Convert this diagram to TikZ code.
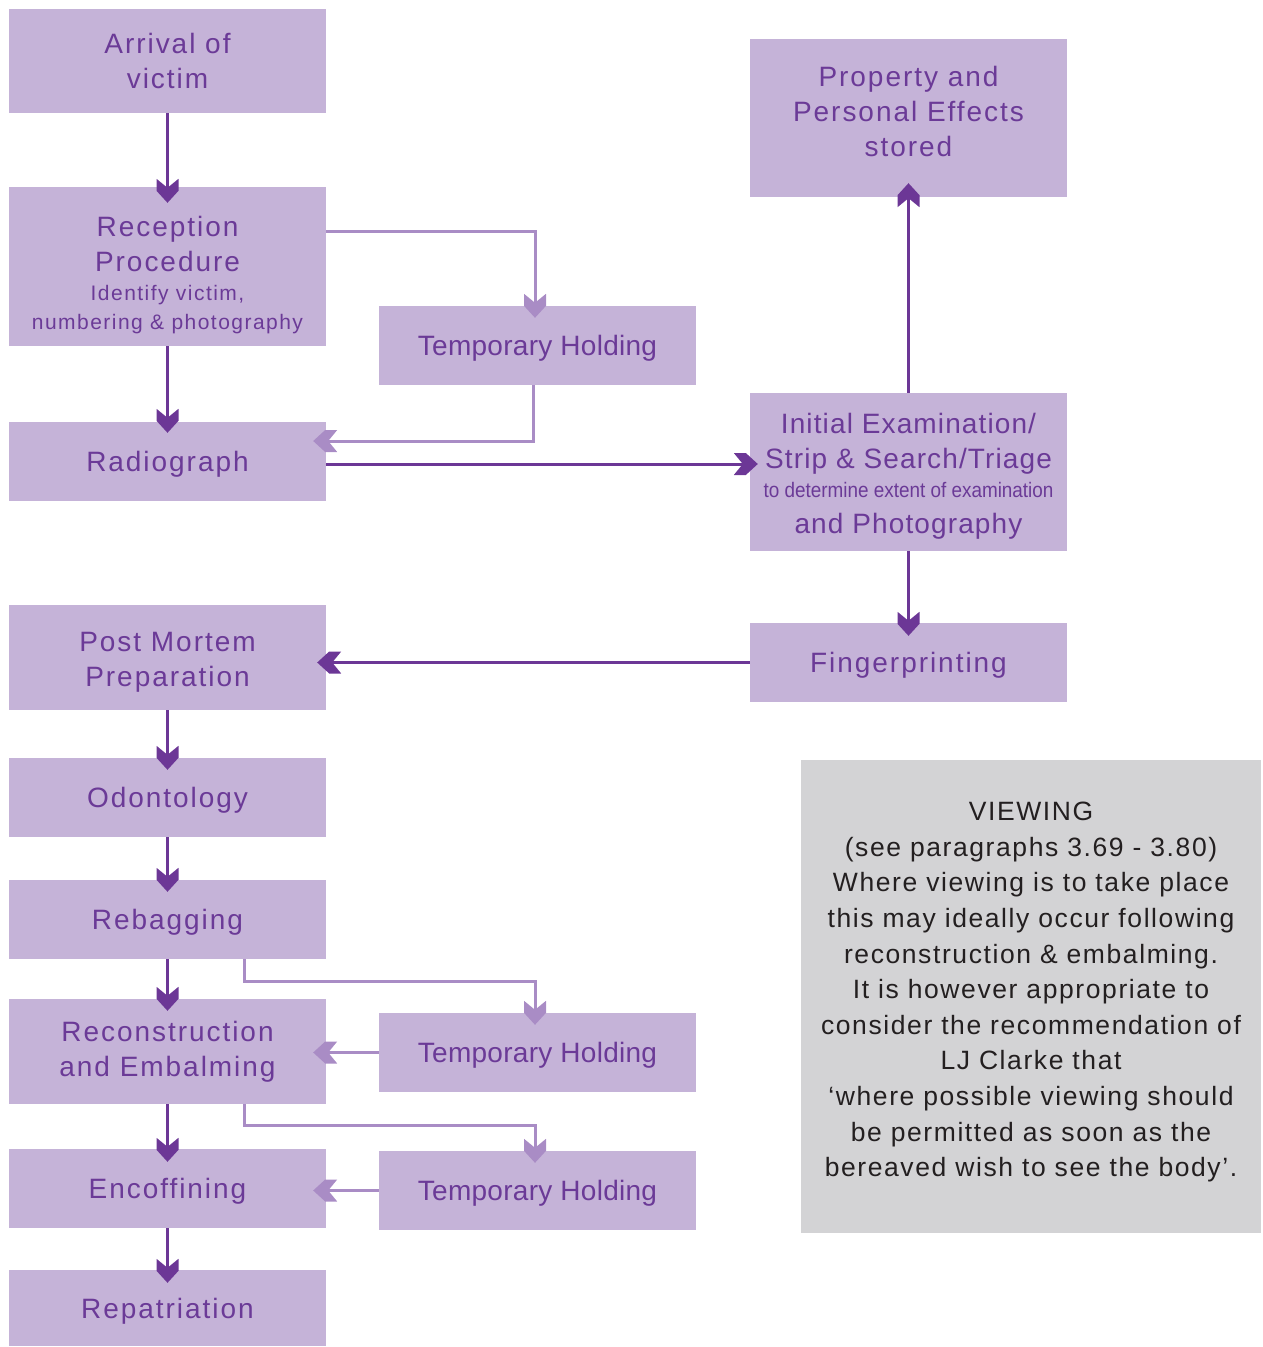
\documentclass[tikz,border=0pt]{standalone}
\usepackage{fontspec}
\setmainfont{Liberation Sans}[LetterSpace=7]
\usetikzlibrary{arrows.meta}
\definecolor{boxfill}{HTML}{C5B3D8}
\definecolor{txt}{HTML}{6B3A97}
\definecolor{darkln}{HTML}{6C3796}
\definecolor{lightln}{HTML}{A98CC5}
\definecolor{greybox}{HTML}{D3D3D5}
\definecolor{greytxt}{HTML}{231F20}
\pgfdeclarearrow{
  name=Chev,
  parameters={},
  setup code={
    \pgfarrowssettipend{0pt}
    \pgfarrowssetlineend{-14pt}
    \pgfarrowssetbackend{-24pt}
    \pgfarrowshullpoint{0pt}{0pt}
    \pgfarrowsupperhullpoint{-24pt}{11pt}
  },
  drawing code={
    \pgfpathmoveto{\pgfpoint{0pt}{0pt}}
    \pgfpathlineto{\pgfpoint{-12pt}{11pt}}
    \pgfpathlineto{\pgfpoint{-24pt}{11pt}}
    \pgfpathlineto{\pgfpoint{-15pt}{0pt}}
    \pgfpathlineto{\pgfpoint{-24pt}{-11pt}}
    \pgfpathlineto{\pgfpoint{-12pt}{-11pt}}
    \pgfpathclose
    \pgfusepathqfill
  }
}
\tikzset{
  box/.style={fill=boxfill, text=txt, align=center, minimum width=317pt, inner sep=0pt,
    font=\fontsize{28}{35}\selectfont},
  oneline/.style={text height=20pt, text depth=0pt},
  thbox/.style={box, oneline, minimum height=79pt, font=\fontsize{28}{35}\selectfont\addfontfeature{LetterSpace=1}},
  darkarrow/.style={draw=darkln, line width=3pt, -{Chev[]}},
  lightarrow/.style={draw=lightln, line width=3pt, -{Chev[]}},
}
\newcommand{\smalltext}[1]{{\fontsize{21}{29}\selectfont #1}}
\newcommand{\condtext}[1]{{\fontsize{21}{28}\selectfont\addfontfeature{LetterSpace=0}\scalebox{0.9}[1]{#1}}}
\begin{document}
\begin{tikzpicture}[x=1pt,y=-1pt]
\useasboundingbox (0,0) rectangle (1262,1347);
% boxes
\node[box, minimum height=104pt] (arr) at (167.5,61) {Arrival of\\victim};
\node[box, minimum height=159pt] (rec) at (167.5,266.5) {\rule{0pt}{37pt}Reception\\Procedure\\[-6pt]\smalltext{Identify victim,}\\[-6pt]\smalltext{numbering \& photography}};
\node[thbox] (th1) at (537.5,345.5) {Temporary Holding};
\node[box, oneline, minimum height=79pt] (rad) at (167.5,461.5) {Radiograph};
\node[box, minimum height=158pt] (prop) at (908.5,118) {Property and\\Personal Effects\\stored\rule[-13pt]{0pt}{1pt}};
\node[box, minimum height=158pt, font=\fontsize{28}{35}\selectfont\addfontfeature{LetterSpace=4}] (init) at (908.5,472) {\rule{0pt}{29pt}Initial Examination/\\Strip \& Search/Triage\\[-6pt]\condtext{to determine extent of examination}\\[1pt]and Photography};
\node[box, oneline, minimum height=79pt] (fing) at (908.5,662.5) {Fingerprinting};
\node[box, minimum height=105pt] (pm) at (167.5,657.5) {\rule{0pt}{29pt}Post Mortem\\Preparation};
\node[box, oneline, minimum height=79pt] (odo) at (167.5,797.5) {Odontology};
\node[box, oneline, minimum height=79pt] (reb) at (167.5,919.5) {Rebagging};
\node[box, minimum height=105pt] (recon) at (167.5,1051.5) {Reconstruction\\and Embalming};
\node[thbox] (th2) at (537.5,1052.5) {Temporary Holding};
\node[box, oneline, minimum height=79pt] (enc) at (167.5,1188.5) {Encoffining};
\node[thbox] (th3) at (537.5,1190.5) {Temporary Holding};
\node[box, oneline, minimum height=76pt] (rep) at (167.5,1308) {Repatriation};
\node[fill=greybox, text=greytxt, minimum width=460pt, minimum height=473pt, inner sep=0pt, align=center,
  font=\fontsize{26.5}{35.6}\selectfont\addfontfeature{LetterSpace=6}] (view) at (1031,996.5)
 {VIEWING\\(see paragraphs 3.69 - 3.80)\\Where viewing is to take place\\this may ideally occur following\\reconstruction \& embalming.\\It is however appropriate to\\consider the recommendation of\\LJ Clarke that\\‘where possible viewing should\\be permitted as soon as the\\bereaved wish to see the body’.\rule[-14pt]{0pt}{1pt}};
% connectors
\coordinate (c1) at (535,231);
\coordinate (c2) at (533,441);
\coordinate (c3) at (244,981);
\coordinate (c4) at (535,981);
\coordinate (c5) at (244,1125);
\coordinate (c6) at (535,1125);
\coordinate (c7) at (0,464);
\draw[darkarrow] (arr.south) -- ([yshift=-16pt]rec.north);
\draw[darkarrow] (rec.south) -- ([yshift=-11pt]rad.north);
\draw[lightarrow] (rec.east |- c1) -- (c1) -- ([yshift=-12pt]th1.north -| c1);
\draw[lightarrow] (th1.south -| c2) -- (c2) -- ([xshift=-13pt]rad.east |- c2);
\draw[darkarrow] (rad.east |- c7) -- ([xshift=8pt]init.west |- c7);
\draw[darkarrow] (init.north) -- ([yshift=14pt]prop.south);
\draw[darkarrow] (init.south) -- ([yshift=-13pt]fing.north);
\draw[darkarrow] (fing.west) -- ([xshift=-9pt]pm.east |- fing.west);
\draw[darkarrow] (pm.south) -- ([yshift=-12pt]odo.north);
\draw[darkarrow] (odo.south) -- ([yshift=-12pt]reb.north);
\draw[darkarrow] (reb.south) -- ([yshift=-12pt]recon.north);
\draw[lightarrow] (reb.south -| c3) -- (c3) -- (c4) -- ([yshift=-12pt]th2.north -| c4);
\draw[lightarrow] (th2.west) -- ([xshift=-13pt]recon.east |- th2.west);
\draw[darkarrow] (recon.south) -- ([yshift=-13pt]enc.north);
\draw[lightarrow] (recon.south -| c5) -- (c5) -- (c6) -- ([yshift=-12pt]th3.north -| c6);
\draw[lightarrow] (th3.west) -- ([xshift=-13pt]enc.east |- th3.west);
\draw[darkarrow] (enc.south) -- ([yshift=-13pt]rep.north);
\end{tikzpicture}
\end{document}
